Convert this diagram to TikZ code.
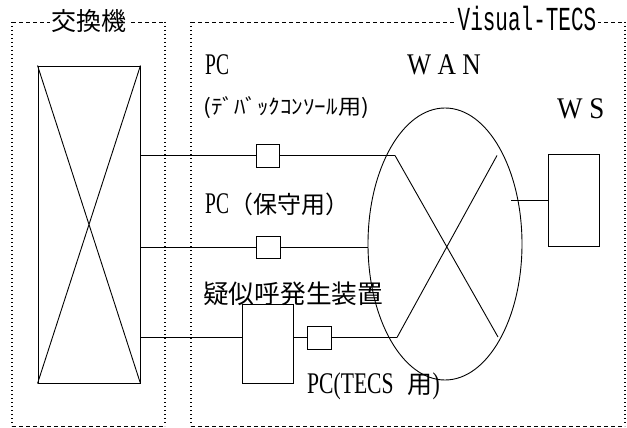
\documentclass[tikz,border=0pt]{standalone}
\usepackage{fontspec}
\setmainfont{Liberation Serif}
\setmonofont{Liberation Mono}
\newfontfamily\cjk{Noto Sans CJK JP}
\usetikzlibrary{shapes.geometric}
\newcommand\latx[2]{\scalebox{#1}[1]{\fontsize{30}{30}\selectfont #2}}
\newcommand\jp[2]{{\cjk\fontsize{#1}{#1}\selectfont #2}}
\begin{document}
\begin{tikzpicture}[x=1pt,y=-1pt,
  line/.style={line width=0.9pt},
  box/.style={draw, line width=0.9pt, inner sep=0pt},
  dashedge/.style={line width=0.9pt, dash pattern=on 4pt off 3pt},
  dotedge/.style={line width=1.3pt, dash pattern=on 1.3pt off 2.7pt},
  lbl/.style={inner sep=0pt, anchor=base west},
  lblc/.style={inner sep=0pt, anchor=west},
  title/.style={fill=white, inner xsep=2pt, inner ysep=0pt}]
\useasboundingbox (0,0) rectangle (627,428);
% frames
\draw[dashedge] (12,22) -- (165,22);
\draw[dashedge] (12,426) -- (165,426);
\draw[dotedge] (12,22) -- (12,426);
\draw[dotedge] (165,22) -- (165,426);
\draw[dashedge] (191,22) -- (625,22);
\draw[dashedge] (191,426) -- (625,426);
\draw[dotedge] (191,22) -- (191,426);
\draw[dotedge] (625,22) -- (625,426);
\node[title] (t1) at (89,21.5) {\jp{25}{交換機}};
\node[title] (t2) at (527,18) {\scalebox{1}[1.6]{\fontsize{21}{21}\selectfont\ttfamily Visual-TECS}};
% switch
\node[box, minimum width=102pt, minimum height=317pt] (sw) at (89,224.5) {};
\draw[line] (sw.north west) -- (sw.south east) (sw.north east) -- (sw.south west);
% small boxes
\node[box, minimum width=23pt, minimum height=23pt] (pc1) at (267.5,155.5) {};
\node[box, minimum width=24pt, minimum height=22pt] (pc2) at (268,247) {};
\node[box, minimum width=51pt, minimum height=79pt] (gen) at (267.5,343.5) {};
\node[box, minimum width=24pt, minimum height=23pt] (pc3) at (319.5,337.5) {};
% WAN
\node[draw, ellipse, line width=0.9pt, minimum width=154pt, minimum height=272pt, inner sep=0pt] (wan) at (445,244) {};
\coordinate (xtl) at (395,155.5);
\coordinate (xtr) at (497,155.5);
\coordinate (xbl) at (397,337.5);
\coordinate (xbr) at (498,337);
\draw[line] (xtl) -- (xbr) (xtr) -- (xbl);
% WS
\node[box, minimum width=51pt, minimum height=92pt] (ws) at (573.5,200) {};
\coordinate (wsend) at (511,200);
% connectors
\draw[line] (sw.east |- pc1) -- (pc1.west) (pc1.east) -- (xtl);
\draw[line] (sw.east |- pc2) -- (pc2.west) (pc2.east) -- (wan.west |- pc2);
\draw[line] (sw.east |- pc3) -- (gen.west |- pc3) (gen.east |- pc3) -- (pc3.west) (pc3.east) -- (xbl);
\draw[line] (wsend) -- (ws.west);
% labels
\node[lbl] (lpc1) at (205,75) {\latx{0.65}{PC}};
\node[lblc] (ldebug) at (203,107.5) {\scalebox{1.1}[1]{\jp{21}{(ﾃﾞﾊﾞｯｸｺﾝｿｰﾙ用)}}};
\node[lbl] (lwan) at (407,75) {\latx{0.85}{W A N}};
\node[lbl] (lws) at (557,118) {\latx{0.9}{W S}};
\node[lbl] (lpc2) at (205,213) {\latx{0.65}{PC}\jp{24}{（保守用）}};
\node[lblc] (lgen) at (203,294) {\jp{25.7}{疑似呼発生装置}};
\node[lbl] (lpc3) at (307,393) {\latx{0.72}{PC(TECS}\hspace{14pt}\jp{25}{用}\latx{0.72}{)}};
\end{tikzpicture}
\end{document}
